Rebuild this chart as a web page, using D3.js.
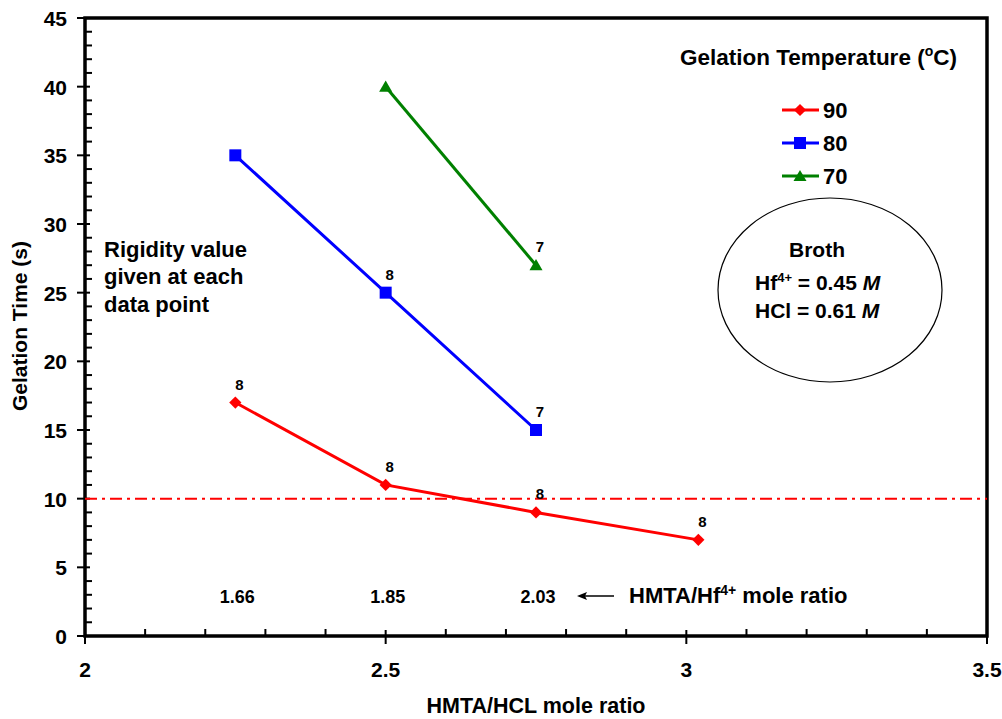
<!DOCTYPE html>
<html>
<head>
<meta charset="utf-8">
<script src="https://cdn.jsdelivr.net/npm/d3@7/dist/d3.min.js"></script>
<style>
  body { margin: 0; background: #fff; }
  svg text { font-family: "Liberation Sans", Arial, sans-serif; font-weight: bold; }
</style>
</head>
<body>
<svg id="chart" width="1002" height="719"></svg>
<script>
// Data
const xRatio90 = [2.25, 2.5, 2.75, 3.02];
const time90 = [17, 11, 9, 7];
const rigid90 = ['8', '8', '8', '8'];

const xRatio80 = [2.25, 2.5, 2.75];
const time80 = [35, 25, 15];
const rigid80 = ['', '8', '7'];

const xRatio70 = [2.5, 2.75];
const time70 = [40, 27];
const rigid70 = ['', '7'];

const hfRatioX = [2.25, 2.5, 2.75];
const hfRatioLabels = ['1.66', '1.85', '2.03'];

const xTicks = [2, 2.5, 3, 3.5];
const yTicks = [0, 5, 10, 15, 20, 25, 30, 35, 40, 45];
const limitTime = 10;

// marker shapes: diamond = rotated square, triangle pointing up
const diamond = { draw(ctx, size) { const r = Math.sqrt(size / 2); ctx.moveTo(0, -r); ctx.lineTo(r, 0); ctx.lineTo(0, r); ctx.lineTo(-r, 0); ctx.closePath(); } };
const tri = { draw(ctx, size) { const w = Math.sqrt(size) * 0.5; const h = w * 1.7; ctx.moveTo(0, -h * 0.55); ctx.lineTo(w, h * 0.45); ctx.lineTo(-w, h * 0.45); ctx.closePath(); } };

const series = [
  { name: '90', color: '#ff0000', shape: diamond, size: 75, x: xRatio90, y: time90, lab: rigid90 },
  { name: '80', color: '#0000ff', shape: d3.symbolSquare, size: 144, x: xRatio80, y: time80, lab: rigid80 },
  { name: '70', color: '#008000', shape: tri, size: 170, x: xRatio70, y: time70, lab: rigid70 }
];

const svg = d3.select('#chart');
const pLeft = 85, pRight = 987, pTop = 18, pBottom = 636;

const x = d3.scaleLinear().domain([2, 3.5]).range([pLeft, pRight]);
const y = d3.scaleLinear().domain([0, 45]).range([pBottom, pTop]);

// frame
svg.append('rect')
  .attr('x', pLeft).attr('y', pTop)
  .attr('width', pRight - pLeft).attr('height', pBottom - pTop)
  .attr('fill', 'none').attr('stroke', '#000').attr('stroke-width', 3.5);

// minor ticks (inside)
const g = svg.append('g');
d3.range(0, 46, 1).filter(v => v % 5 !== 0).forEach(v => {
  g.append('line').attr('x1', pLeft).attr('x2', pLeft + 7)
    .attr('y1', y(v)).attr('y2', y(v)).attr('stroke', '#000').attr('stroke-width', 2);
});
d3.range(1, 15).filter(i => i % 5 !== 0).forEach(i => {
  const v = 2 + i * 0.1;
  g.append('line').attr('x1', x(v)).attr('x2', x(v))
    .attr('y1', pBottom).attr('y2', pBottom - 7).attr('stroke', '#000').attr('stroke-width', 2);
});

// major ticks + labels
yTicks.forEach(v => {
  g.append('line').attr('x1', pLeft - 8).attr('x2', pLeft + 5)
    .attr('y1', y(v)).attr('y2', y(v)).attr('stroke', '#000').attr('stroke-width', 2);
  g.append('text').attr('x', 67).attr('y', y(v) + 8)
    .attr('text-anchor', 'end').attr('font-size', 21).text(v);
});
xTicks.forEach(v => {
  g.append('line').attr('x1', x(v)).attr('x2', x(v))
    .attr('y1', pBottom - 6).attr('y2', pBottom + 8).attr('stroke', '#000').attr('stroke-width', 2);
  g.append('text').attr('x', x(v)).attr('y', 677)
    .attr('text-anchor', 'middle').attr('font-size', 21).text(v);
});

// axis titles
svg.append('text')
  .attr('transform', `translate(27,326) rotate(-90)`)
  .attr('text-anchor', 'middle').attr('font-size', 21).text('Gelation Time (s)');
svg.append('text')
  .attr('x', 536).attr('y', 713)
  .attr('text-anchor', 'middle').attr('font-size', 21.5).text('HMTA/HCL mole ratio');

// 10 s reference line
svg.append('line')
  .attr('x1', pLeft).attr('x2', pRight)
  .attr('y1', y(limitTime)).attr('y2', y(limitTime))
  .attr('stroke', '#ff0000').attr('stroke-width', 2)
  .attr('stroke-dasharray', '12,5,3,5');

// series
const line = d3.line().x(d => x(d[0])).y(d => y(d[1]));
series.forEach(s => {
  const pts = s.x.map((v, i) => [v, s.y[i], s.lab[i]]);
  svg.append('path').datum(pts).attr('d', line)
    .attr('fill', 'none').attr('stroke', s.color).attr('stroke-width', 3);
  svg.selectAll(null).data(pts).enter().append('path')
    .attr('transform', d => `translate(${x(d[0])},${y(d[1])})`)
    .attr('d', d3.symbol().type(s.shape).size(s.size))
    .attr('fill', s.color);
  svg.selectAll(null).data(pts.filter(d => d[2])).enter().append('text')
    .attr('x', d => x(d[0]) + 4).attr('y', d => y(d[1]) - 13)
    .attr('text-anchor', 'middle').attr('font-size', 15).text(d => d[2]);
});

// HMTA/Hf4+ mole ratios
svg.selectAll(null).data(hfRatioX).enter().append('text')
  .attr('x', d => x(d) + 2).attr('y', 603)
  .attr('text-anchor', 'middle').attr('font-size', 18)
  .text((d, i) => hfRatioLabels[i]);
svg.append('line').attr('x1', 614).attr('x2', 584).attr('y1', 596).attr('y2', 596)
  .attr('stroke', '#000').attr('stroke-width', 1.5);
svg.append('path').attr('d', 'M577,596 l10,-4 l-2,4 l2,4 z').attr('fill', '#000');
const hft = svg.append('text').attr('x', 629).attr('y', 603).attr('font-size', 22);
hft.append('tspan').text('HMTA/Hf');
hft.append('tspan').attr('dy', -8).attr('font-size', 14).text('4+');
hft.append('tspan').attr('dy', 8).text(' mole ratio');

// side note
['Rigidity value', 'given at each', 'data point'].forEach((t, i) => {
  svg.append('text').attr('x', 104).attr('y', 257 + i * 27.3).attr('font-size', 22).text(t);
});

// legend
const lt = svg.append('text').attr('x', 680).attr('y', 65).attr('font-size', 22.5);
lt.append('tspan').text('Gelation Temperature (');
lt.append('tspan').attr('dy', -9).attr('font-size', 14).text('o');
lt.append('tspan').attr('dy', 9).text('C)');
series.forEach((s, i) => {
  const ly = 110 + i * 33;
  svg.append('line').attr('x1', 782).attr('x2', 819).attr('y1', ly).attr('y2', ly)
    .attr('stroke', s.color).attr('stroke-width', 3);
  svg.append('path').attr('transform', `translate(800,${ly})`)
    .attr('d', d3.symbol().type(s.shape).size(s.size))
    .attr('fill', s.color);
  svg.append('text').attr('x', 823).attr('y', ly + 8).attr('font-size', 22).text(s.name);
});

// broth ellipse
svg.append('ellipse').attr('cx', 830).attr('cy', 290).attr('rx', 112).attr('ry', 92)
  .attr('fill', 'none').attr('stroke', '#000').attr('stroke-width', 1.2);
svg.append('text').attr('x', 817).attr('y', 257).attr('text-anchor', 'middle')
  .attr('font-size', 21).text('Broth');
const b1 = svg.append('text').attr('x', 755).attr('y', 290).attr('font-size', 21);
b1.append('tspan').text('Hf');
b1.append('tspan').attr('dy', -8).attr('font-size', 13).text('4+');
b1.append('tspan').attr('dy', 8).text(' = 0.45 ');
b1.append('tspan').attr('font-style', 'italic').text('M');
const b2 = svg.append('text').attr('x', 755).attr('y', 318).attr('font-size', 21);
b2.append('tspan').text('HCl = 0.61 ');
b2.append('tspan').attr('font-style', 'italic').text('M');
</script>
</body>
</html>
